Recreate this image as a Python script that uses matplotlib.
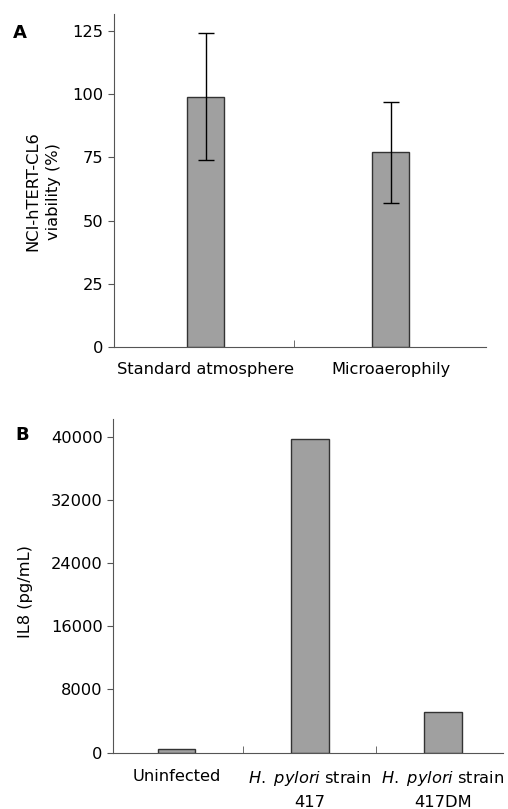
import numpy as np
import matplotlib
matplotlib.use("Agg")
import matplotlib.pyplot as plt

plt.rcParams['font.family'] = ['DejaVu Sans']
plt.rcParams['mathtext.fontset'] = 'dejavusans'

# Panel A: viability
cond_a = ["Standard atmosphere", "Microaerophily"]
viability = [99, 77]
viability_err = [25, 20]

# Panel B: IL8 release
cond_b = ["Uninfected",
          r"$\it{H.}$ $\it{pylori}$ strain" + "\n417",
          r"$\it{H.}$ $\it{pylori}$ strain" + "\n417DM"]
il8 = [500, 39700, 5200]

bar_color = "#a0a0a0"
edge_color = "#333333"
axis_color = "#555555"
fs = 11.7

fig = plt.figure(figsize=(5.08, 8.09), dpi=100)

# ---- A ----
axa = fig.add_axes([0.2244, 0.5711, 0.7323, 0.4116])
xa = np.arange(len(cond_a))
axa.bar(xa, viability, width=0.2, color=bar_color, edgecolor=edge_color, linewidth=1.0)
axa.errorbar(xa, viability, yerr=viability_err, fmt="none", ecolor="black",
             elinewidth=1.0, capsize=5.6, capthick=1.0)
axa.set_xlim(-0.495, 1.516)
axa.set_ylim(0, 131.7)
axa.set_yticks([0, 25, 50, 75, 100, 125])
axa.set_xticks([0.478], minor=True)
axa.set_xticks(xa)
axa.set_xticklabels(cond_a, fontsize=fs)
axa.tick_params(axis="x", which="major", length=0, pad=11)
axa.tick_params(axis="x", which="minor", length=5, direction="in", color=axis_color)
axa.tick_params(axis="y", length=4, labelsize=fs, color=axis_color)
axa.set_ylabel("NCI-hTERT-CL6\nviability (%)", fontsize=fs, linespacing=1.45)
axa.yaxis.set_label_coords(-0.142, 0.468)
for s in ["top", "right"]:
    axa.spines[s].set_visible(False)
for s in ["left", "bottom"]:
    axa.spines[s].set_color(axis_color)
fig.text(0.026, 0.970, "A", fontsize=13, fontweight="bold", va="top")

# ---- B ----
axb = fig.add_axes([0.2224, 0.0696, 0.7676, 0.4125])
xb = np.arange(len(cond_b))
axb.bar(xb, il8, width=0.28, color=bar_color, edgecolor=edge_color, linewidth=1.0)
axb.set_xlim(-0.48, 2.45)
axb.set_ylim(0, 42240)
axb.set_yticks([0, 8000, 16000, 24000, 32000, 40000])
axb.set_xticks([0.5, 1.5], minor=True)
axb.set_xticks(xb)
axb.set_xticklabels(cond_b, fontsize=fs, linespacing=1.55)
axb.tick_params(axis="x", which="major", length=0, pad=12)
axb.tick_params(axis="x", which="minor", length=5, direction="in", color=axis_color)
axb.tick_params(axis="y", length=4, labelsize=fs, color=axis_color)
axb.set_ylabel("IL8 (pg/mL)", fontsize=fs)
axb.yaxis.set_label_coords(-0.205, 0.482)
for s in ["top", "right"]:
    axb.spines[s].set_visible(False)
for s in ["left", "bottom"]:
    axb.spines[s].set_color(axis_color)
fig.text(0.030, 0.4734, "B", fontsize=13, fontweight="bold", va="top")

fig.savefig("out.png", dpi=100)
